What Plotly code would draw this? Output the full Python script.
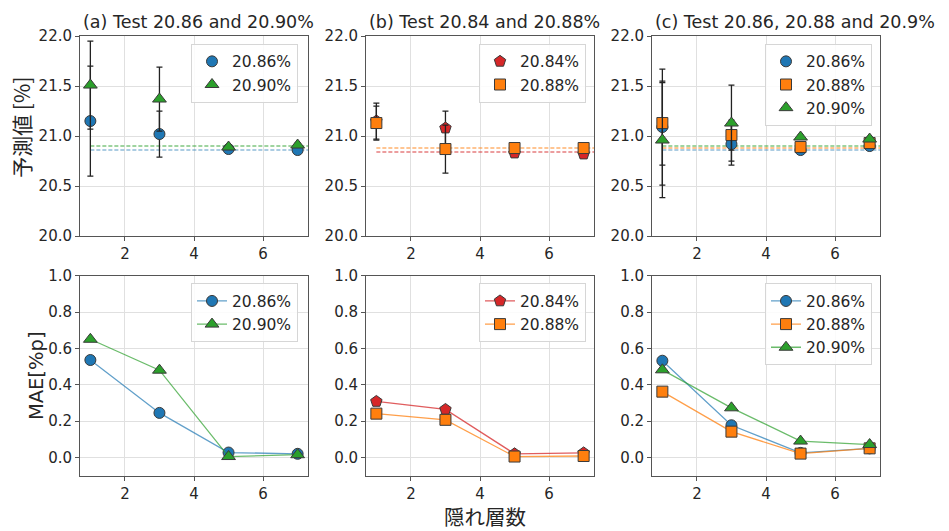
import plotly.graph_objects as go

# ---------------- data ----------------
LAYERS = [1, 3, 5, 7]

# (a) prediction means / std
A_PRED_2086 = [21.15, 21.02, 20.87, 20.86]
A_ERR_2086 = [0.55, 0.23, 0.02, 0.02]
A_PRED_2090 = [21.51, 21.37, 20.89, 20.91]
A_ERR_2090 = [0.44, 0.32, 0.02, 0.02]

# (b)
B_PRED_2084 = [21.15, 21.08, 20.83, 20.82]
B_ERR_2084 = [0.18, 0.17, 0.02, 0.02]
B_PRED_2088 = [21.13, 20.87, 20.88, 20.88]
B_ERR_2088 = [0.17, 0.24, 0.02, 0.02]

# (c)
C_PRED_2086 = [21.09, 20.92, 20.86, 20.90]
C_ERR_2086 = [0.58, 0.21, 0.02, 0.02]
C_PRED_2088 = [21.13, 21.01, 20.89, 20.93]
C_ERR_2088 = [0.42, 0.15, 0.02, 0.02]
C_PRED_2090 = [20.96, 21.13, 20.99, 20.97]
C_ERR_2090 = [0.575, 0.38, 0.02, 0.02]

# MAE
A_MAE_2086 = [0.536, 0.245, 0.027, 0.020]
A_MAE_2090 = [0.650, 0.480, 0.005, 0.015]
B_MAE_2084 = [0.308, 0.264, 0.020, 0.025]
B_MAE_2088 = [0.241, 0.207, 0.005, 0.008]
C_MAE_2086 = [0.532, 0.177, 0.025, 0.050]
C_MAE_2088 = [0.362, 0.142, 0.021, 0.050]
C_MAE_2090 = [0.482, 0.273, 0.090, 0.071]

TRUE_VALUES = {"20.84%": 20.84, "20.86%": 20.86, "20.88%": 20.88, "20.90%": 20.90}

TITLES = ["(a) Test 20.86 and 20.90%", "(b) Test 20.84 and 20.88%", "(c) Test 20.86, 20.88 and 20.9%"]
YLABEL_TOP = "予測値 [%]"
YLABEL_BOTTOM = "MAE[%p]"
XLABEL = "隠れ層数"

# ---------------- styles ----------------
COLORS = {"20.84%": "#d62728", "20.86%": "#1f77b4", "20.88%": "#ff7f0e", "20.90%": "#2ca02c"}
LIGHT = {"20.84%": "rgba(214,39,40,0.6)", "20.86%": "rgba(31,119,180,0.5)",
         "20.88%": "rgba(255,127,14,0.6)", "20.90%": "rgba(44,160,44,0.6)"}
LINEC = {"20.84%": "rgba(214,39,40,0.75)", "20.86%": "rgba(31,119,180,0.7)",
         "20.88%": "rgba(255,127,14,0.75)", "20.90%": "rgba(44,160,44,0.7)"}
SYMBOLS = {"20.84%": "pentagon", "20.86%": "circle", "20.88%": "square", "20.90%": "triangle-up"}
SIZES = {"20.84%": 12, "20.86%": 11, "20.88%": 11, "20.90%": 12}

W, H = 949, 531
FONT = "DejaVu Sans"
CJK = "Noto Sans CJK JP, DejaVu Sans"
TXT = "#262626"

XMIN, XMAX = 0.7, 7.3

cols_px = [(80, 308), (366, 594), (652, 880)]
rows_px = [(28, 235), (276, 483)]

fig = go.Figure()

panels_top = [
    [("20.86%", A_PRED_2086, A_ERR_2086), ("20.90%", A_PRED_2090, A_ERR_2090)],
    [("20.84%", B_PRED_2084, B_ERR_2084), ("20.88%", B_PRED_2088, B_ERR_2088)],
    [("20.86%", C_PRED_2086, C_ERR_2086), ("20.88%", C_PRED_2088, C_ERR_2088), ("20.90%", C_PRED_2090, C_ERR_2090)],
]
panels_bot = [
    [("20.86%", A_MAE_2086), ("20.90%", A_MAE_2090)],
    [("20.84%", B_MAE_2084), ("20.88%", B_MAE_2088)],
    [("20.86%", C_MAE_2086), ("20.88%", C_MAE_2088), ("20.90%", C_MAE_2090)],
]


def ax_names(idx):
    s = "" if idx == 1 else str(idx)
    return "x" + s, "y" + s, "xaxis" + s, "yaxis" + s, "legend" + s


layout_updates = {}

for r in range(2):
    for c in range(3):
        idx = r * 3 + c + 1
        xr, yr, xa, ya, lg = ax_names(idx)
        x0, x1 = cols_px[c]
        y0, y1 = rows_px[r]
        common = dict(
            showline=True, linecolor="#555555", linewidth=1, mirror=True,
            ticks="outside", ticklen=4, tickcolor="#555555", tickwidth=1,
            showgrid=True, gridcolor="#e0e0e0", gridwidth=1, zeroline=False,
            tickfont=dict(family=FONT, size=15, color=TXT),
        )
        layout_updates[xa] = dict(common, domain=[x0 / W, x1 / W], range=[XMIN, XMAX],
                                  tickvals=[2, 4, 6], anchor=yr)
        if r == 0:
            layout_updates[ya] = dict(common, domain=[1 - y1 / H, 1 - y0 / H], range=[20.0, 22.0],
                                      tickvals=[20.0, 20.5, 21.0, 21.5, 22.0], tickformat=".1f", anchor=xr)
        else:
            layout_updates[ya] = dict(common, domain=[1 - y1 / H, 1 - y0 / H], range=[-0.1, 1.0],
                                      tickvals=[0.0, 0.2, 0.4, 0.6, 0.8, 1.0], tickformat=".1f", anchor=xr)
        right_px = {0: 298, 1: 586, 2: 872}[c]
        top_px = 36 if r == 0 else 284
        layout_updates[lg] = dict(
            x=right_px / W, y=1 - top_px / H, xanchor="right", yanchor="top",
            bgcolor="rgba(255,255,255,0.85)", bordercolor="#d6d6d6", borderwidth=1,
            font=dict(family=FONT, size=15.5, color=TXT), tracegroupgap=0,
        )

# top row traces
for c, series in enumerate(panels_top):
    idx = c + 1
    xr, yr, xa, ya, lg = ax_names(idx)
    for name, vals, errs in series:
        tv = TRUE_VALUES[name]
        fig.add_trace(go.Scatter(
            x=[LAYERS[0], XMAX], y=[tv, tv], mode="lines",
            line=dict(color=LIGHT[name], width=1.5, dash="4px,2px"),
            xaxis=xr, yaxis=yr, showlegend=False, hoverinfo="skip"))
    for name, vals, errs in series:
        fig.add_trace(go.Scatter(
            x=LAYERS, y=vals, mode="markers", name=name,
            marker=dict(symbol=SYMBOLS[name], size=SIZES[name], color=COLORS[name],
                        line=dict(color="#3a3a3a", width=1)),
            error_y=dict(type="data", array=errs, visible=True, color="#222222",
                         thickness=1.3, width=3),
            xaxis=xr, yaxis=yr, legend=lg))

# bottom row traces
for c, series in enumerate(panels_bot):
    idx = 3 + c + 1
    xr, yr, xa, ya, lg = ax_names(idx)
    for name, vals in series:
        fig.add_trace(go.Scatter(
            x=LAYERS, y=vals, mode="lines+markers", name=name,
            line=dict(color=LINEC[name], width=1.3),
            marker=dict(symbol=SYMBOLS[name], size=SIZES[name], color=COLORS[name],
                        line=dict(color="#3a3a3a", width=1)),
            xaxis=xr, yaxis=yr, legend=lg))

annotations = []
for c, t in enumerate(TITLES):
    x0, _ = cols_px[c]
    annotations.append(dict(
        text=t, x=(x0 + 1) / W, y=1 - 26 / H, xref="paper", yref="paper",
        xanchor="left", yanchor="bottom", showarrow=False,
        font=dict(family=FONT, size=17.5, color=TXT)))

annotations.append(dict(
    text=YLABEL_TOP, x=21 / W, y=1 - 123 / H, xref="paper", yref="paper",
    xanchor="center", yanchor="middle", textangle=-90, showarrow=False,
    font=dict(family=CJK, size=21, color=TXT)))
annotations.append(dict(
    text=YLABEL_BOTTOM, x=36 / W, y=1 - 380 / H, xref="paper", yref="paper",
    xanchor="center", yanchor="middle", textangle=-90, showarrow=False,
    font=dict(family=FONT, size=19.5, color=TXT)))
annotations.append(dict(
    text=XLABEL, x=485 / W, y=1 - 525 / H, xref="paper", yref="paper",
    xanchor="center", yanchor="middle", showarrow=False, borderpad=0,
    font=dict(family=CJK, size=20.5, color=TXT)))

fig.update_layout(
    width=W, height=H, margin=dict(l=0, r=0, t=0, b=0),
    paper_bgcolor="white", plot_bgcolor="white",
    annotations=annotations, **layout_updates,
)

fig.write_html("out.html")
